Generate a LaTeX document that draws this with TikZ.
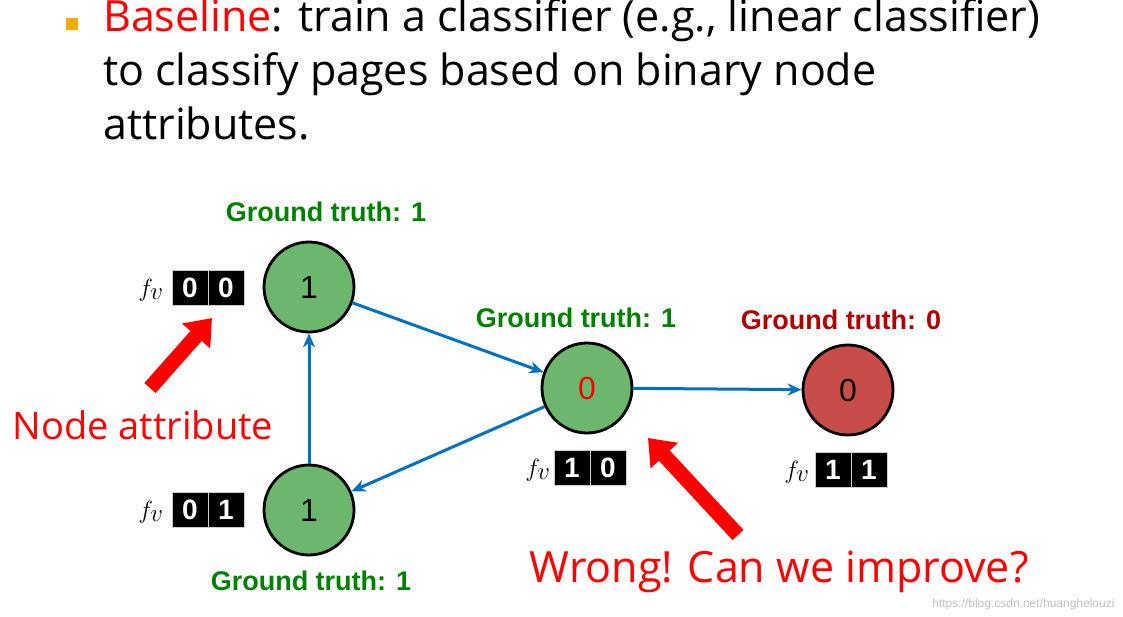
\documentclass[tikz,border=0pt]{standalone}
\usepackage{fontspec}
\setmainfont{Liberation Sans}
\newfontfamily\osans{Open Sans}
\usetikzlibrary{arrows.meta}
\definecolor{gr}{RGB}{108,182,110}
\definecolor{rd}{RGB}{200,76,72}
\definecolor{edge}{RGB}{0,112,192}
\definecolor{gtg}{RGB}{0,128,0}
\definecolor{gtr}{RGB}{176,0,0}
\definecolor{bul}{RGB}{240,170,0}
\begin{document}
\begin{tikzpicture}[x=1pt,y=-1pt,
  nd/.style={circle,draw=black,line width=2.8pt,minimum size=90pt,inner sep=0pt,font=\fontsize{32}{32}\selectfont},
  gt/.style={font=\bfseries\fontsize{27}{27}\selectfont},
  cell/.style={fill=black,draw=gray!40,line width=1pt,minimum width=36pt,minimum height=35pt,inner sep=0pt,text=white,font=\bfseries\fontsize{28}{28}\selectfont},
  fv/.style={font=\fontsize{33}{33}\selectfont},
  ed/.style={edge,line width=3pt,-{Stealth[length=14pt,width=12pt]}},
  big/.style={red,line width=15pt,-{Triangle[length=24pt,width=36pt]}},
  rt/.style={red,font=\osans\fontsize{38}{38}\selectfont}]
\useasboundingbox (0,0) rectangle (1123,616);
\fill[bul] (66,18) rectangle (78,30);
\node[anchor=north west,align=left,inner sep=0pt,font=\osans\fontsize{43}{54}\selectfont] (txt) at (103,-2)
 {{\color{red}Baseline}: train a classifier (e.g., linear classifier)\\to classify pages based on binary node\\attributes.};
\node[nd,fill=gr] (a) at (309,287) {1};
\node[nd,fill=gr] (b) at (309,510) {1};
\node[nd,fill=gr,text=red] (c) at (587,388) {0};
\node[nd,fill=rd] (d) at (848,390) {0};
\draw[ed] (a) -- (c);
\draw[ed] (c) -- (b);
\draw[ed] (b) -- (a);
\draw[ed] (c) -- (d);
\node[gt,text=gtg] (ga) at (326,212) {Ground truth: 1};
\node[gt,text=gtg] (gc) at (576,318) {Ground truth: 1};
\node[gt,text=gtg] (gb) at (311,581) {Ground truth: 1};
\node[gt,text=gtr] (gd) at (841,320) {Ground truth: 0};
% fv boxes
\node[cell] (a1) at (190,288) {0}; \node[cell] (a2) at (226,288) {0};
\node[fv] (fa) at (151,290) {$f_v$};
\node[cell] (b1) at (190,510) {0}; \node[cell] (b2) at (226,510) {1};
\node[fv] (fb) at (151,512) {$f_v$};
\node[cell] (c1) at (572,468) {1}; \node[cell] (c2) at (608,468) {0};
\node[fv] (fc) at (538,470) {$f_v$};
\node[cell] (d1) at (833,470) {1}; \node[cell] (d2) at (869,470) {1};
\node[fv] (fd) at (797,472) {$f_v$};
% red arrows
\coordinate (s1) at (150,388); \coordinate (e1) at (212,318);
\draw[big] (s1) -- (e1);
\coordinate (s2) at (738,535); \coordinate (e2) at (648,438);
\draw[big] (s2) -- (e2);
\node[rt] (na) at (143,425) {Node attribute};
\node[rt,font=\osans\fontsize{43}{43}\selectfont] (wr) at (779,572) {Wrong! Can we improve?};
\node[gray!50,font=\fontsize{12}{12}\selectfont,anchor=east] (wm) at (1118,604) {https://blog.csdn.net/huanghelouzi};
\end{tikzpicture}
\end{document}
